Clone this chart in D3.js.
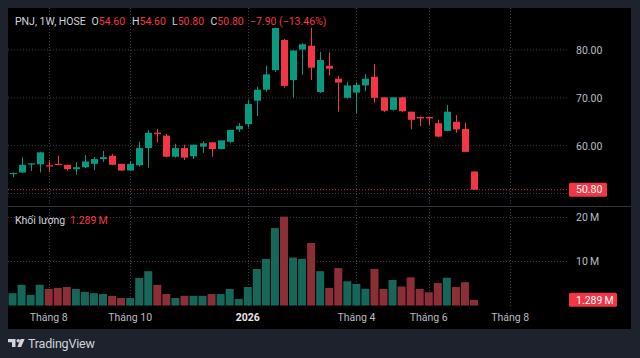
<!DOCTYPE html>
<html><head><meta charset="utf-8">
<script src="https://cdn.jsdelivr.net/npm/d3@7"></script>
<style>
html,body{margin:0;padding:0;background:#1e222d;}
svg{display:block;font-family:Roboto,"Noto Sans",sans-serif;}
</style>
</head><body>
<svg id="c" width="640" height="358"></svg>
<script>
// ---------- DATA ----------
const dates = [
 "2025-07-07","2025-07-14","2025-07-21","2025-07-28","2025-08-04","2025-08-11","2025-08-18","2025-08-25",
 "2025-09-01","2025-09-08","2025-09-15","2025-09-22","2025-09-29","2025-10-06","2025-10-13","2025-10-20",
 "2025-10-27","2025-11-03","2025-11-10","2025-11-17","2025-11-24","2025-12-01","2025-12-08","2025-12-15",
 "2025-12-22","2025-12-29","2026-01-05","2026-01-12","2026-01-19","2026-01-26","2026-02-02","2026-02-09",
 "2026-02-23","2026-03-02","2026-03-09","2026-03-16","2026-03-23","2026-03-30","2026-04-06","2026-04-13",
 "2026-04-20","2026-04-27","2026-05-04","2026-05-11","2026-05-18","2026-05-25","2026-06-01","2026-06-08",
 "2026-06-15","2026-06-22","2026-06-29","2026-07-06"];
const futureDates = ["2026-07-13","2026-07-20","2026-07-27","2026-08-03","2026-08-10","2026-08-17",
 "2026-08-24","2026-08-31","2026-09-07","2026-09-14"];
const open  = [54.1,54.4,56.1,56.1,55.9,56.2,56.0,55.1,55.5,56.2,57.2,57.9,56.2,54.8,55.9,59.5,62.7,62.1,57.7,59.5,
               57.8,59.8,60.7,59.3,60.8,63.4,64.5,69.4,71.7,75.8,82.1,73.7,80.1,80.9,71.2,76.7,74.0,70.0,71.1,72.6,
               74.4,70.1,67.5,70.1,67.1,66.0,66.0,64.7,63.1,65.0,63.5,54.6];
const high  = [54.4,57.6,56.3,58.75,57.0,57.9,56.0,56.5,58.0,57.6,58.9,58.3,56.2,56.8,60.8,63.3,63.5,62.45,60.4,60.2,
               60.2,60.9,60.7,61.1,63.3,64.7,69.6,72.3,76.7,84.7,82.3,79.9,81.4,84.6,79.6,79.5,74.6,73.3,73.3,75.0,
               77.1,70.1,70.1,70.1,67.1,66.1,66.0,65.4,68.5,66.4,64.75,54.6];
const low   = [53.4,54.3,54.7,54.4,54.5,55.9,54.85,53.9,55.3,54.9,56.6,55.9,54.7,54.7,55.6,55.4,60.7,57.6,57.5,57.0,
               57.2,58.5,57.7,59.2,60.5,62.9,63.8,66.2,71.3,75.4,72.1,70.0,74.8,73.7,71.0,74.7,67.1,69.8,66.7,71.4,
               69.0,67.0,67.3,67.0,63.4,64.1,64.3,61.8,63.0,62.7,58.7,50.8];
const close = [54.3,56.0,56.3,58.6,55.7,56.0,55.1,55.5,56.7,57.2,57.6,56.0,54.8,56.2,59.5,62.7,62.4,57.7,59.5,57.5,
               60.2,60.5,59.3,61.1,63.3,64.1,68.7,71.7,74.9,84.6,72.5,79.9,81.2,76.3,77.9,76.1,73.2,72.6,72.7,74.0,
               70.0,67.3,70.1,67.2,65.4,65.7,65.7,61.9,67.1,63.4,58.7,50.8];
const volume = [2.8,4.7,2.4,4.7,3.75,4.0,4.2,3.75,3.1,2.8,2.6,2.2,1.7,1.7,6.25,7.8,4.7,2.6,1.7,2.2,
                2.2,2.2,2.6,2.6,3.75,1.5,4.2,8.3,10.6,17.6,20.2,10.9,10.6,14.2,7.8,4.0,8.5,5.5,4.9,3.8,
                8.3,3.75,5.8,4.3,6.4,3.75,3.0,5.1,6.3,4.2,5.3,1.289];
const priceTicks = [60,70,80];
const priceGrid = [50,60,70,80];
const volumeTicks = [10,20];
const timeTickDates  = ["2025-08-04","2025-10-06","2026-01-05","2026-04-06","2026-06-01","2026-08-03"];
const timeTickLabels = ["Tháng 8","Tháng 10","2026","Tháng 4","Tháng 6","Tháng 8"];
const symbolText = "PNJ, 1W, HOSE";

// ---------- STYLE ----------
const UP = "#089981", DOWN = "#f23645";
const VUP = "#16675a", VDOWN = "#8c2e37";
const GRID = "#3a3e48", AXIS_TXT = "#b8bbc3";
const FS = 10.5;

const svg = d3.select("#c");
// inner black panel
svg.append("rect").attr("x",8).attr("y",8).attr("width",623).attr("height",321).attr("fill","#000");

const bars = dates.map((d,i)=>({d,o:open[i],h:high[i],l:low[i],c:close[i],v:volume[i]}));
const x = d3.scaleBand().domain(dates.concat(futureDates)).range([8,569]).padding(0);
const bw = x.bandwidth();
const cx = d => x(d) + bw/2;
const y = d3.scaleLinear().domain([50,80]).range([193.5,50]);
const vy = d3.scaleLinear().domain([0,20]).range([305.5,217.5]);

const PL = 8, PR = 568;
// grid
const g = svg.append("g");
g.selectAll(".hg").data(priceGrid).join("line")
  .attr("x1",PL).attr("x2",PR).attr("y1",d=>y(d)).attr("y2",d=>y(d))
  .attr("stroke",GRID).attr("stroke-dasharray","1,2");
g.selectAll(".vg").data(volumeTicks).join("line")
  .attr("x1",PL).attr("x2",PR).attr("y1",d=>vy(d)).attr("y2",d=>vy(d))
  .attr("stroke",GRID).attr("stroke-dasharray","1,2");
g.selectAll(".tg").data(timeTickDates).join("line")
  .attr("x1",d=>Math.round(cx(d))+0.5).attr("x2",d=>Math.round(cx(d))+0.5).attr("y1",8).attr("y2",306)
  .attr("stroke",GRID).attr("stroke-dasharray","1,2");

// pane separator
svg.append("line").attr("x1",8).attr("x2",631).attr("y1",206.5).attr("y2",206.5).attr("stroke","#2f333e");

// last price line
const last = bars[bars.length-1];
svg.append("line").attr("x1",PL).attr("x2",PR).attr("y1",y(last.c)).attr("y2",y(last.c))
  .attr("stroke",DOWN).attr("stroke-opacity",0.8).attr("stroke-dasharray","1,2");

// volume bars
svg.append("g").selectAll("rect").data(bars).join("rect")
  .attr("x",d=>cx(d.d)-4).attr("width",8)
  .attr("y",d=>vy(d.v)).attr("height",d=>vy(0)-vy(d.v))
  .attr("fill",d=>d.c>=d.o?VUP:VDOWN);

// candles
const cg = svg.append("g").selectAll("g").data(bars).join("g");
cg.append("line").attr("x1",d=>Math.round(cx(d.d))+0.5).attr("x2",d=>Math.round(cx(d.d))+0.5)
  .attr("y1",d=>y(d.h)).attr("y2",d=>y(d.l))
  .attr("stroke",d=>d.c>=d.o?UP:DOWN).attr("stroke-width",1);
cg.append("rect").attr("x",d=>Math.round(cx(d.d))-3).attr("width",7)
  .attr("y",d=>y(Math.max(d.o,d.c))).attr("height",d=>Math.max(1.2,Math.abs(y(d.o)-y(d.c))))
  .attr("fill",d=>d.c>=d.o?UP:DOWN);

// price axis
const pa = svg.append("g").attr("transform",`translate(${PR},0)`)
  .call(d3.axisRight(y).tickValues(priceTicks).tickSize(0).tickPadding(8).tickFormat(d3.format(".2f")));
pa.select(".domain").remove();
pa.selectAll("text").attr("fill",AXIS_TXT).attr("font-size",FS).attr("font-family","Roboto");

// volume axis
const va = svg.append("g").attr("transform",`translate(${PR},0)`)
  .call(d3.axisRight(vy).tickValues(volumeTicks).tickSize(0).tickPadding(8).tickFormat(d=>d+"\u2009M"));
va.select(".domain").remove();
va.selectAll("text").attr("fill",AXIS_TXT).attr("font-size",FS).attr("font-family","Roboto");

// time axis
const ta = svg.append("g").attr("transform","translate(0,306)")
  .call(d3.axisBottom(x).tickValues(timeTickDates).tickSize(0).tickPadding(8)
        .tickFormat(d=>timeTickLabels[timeTickDates.indexOf(d)]));
ta.select(".domain").remove();
ta.selectAll("text").attr("font-size",FS).attr("font-family","Roboto")
  .attr("font-weight",d=>timeTickLabels[timeTickDates.indexOf(d)]==="2026"?"bold":null)
  .attr("fill",d=>timeTickLabels[timeTickDates.indexOf(d)]==="2026"?"#e6e8ec":AXIS_TXT);

// last price label
const ly = y(last.c);
svg.append("rect").attr("x",569).attr("y",ly-7).attr("width",38).attr("height",14).attr("rx",1.5).attr("fill",DOWN);
svg.append("text").attr("x",576).attr("y",ly).attr("dy","0.35em").attr("fill","#fff")
  .attr("font-size",FS).text(d3.format(".2f")(last.c));
const vly = vy(last.v);
svg.append("rect").attr("x",569).attr("y",vly-7).attr("width",48).attr("height",14).attr("rx",1.5).attr("fill",DOWN);
svg.append("text").attr("x",576).attr("y",vly).attr("dy","0.35em").attr("fill","#fff")
  .attr("font-size",FS).text(last.v.toFixed(3)+"\u2009M");

// header legend
const prev = bars[bars.length-2];
const chg = last.c - prev.c, pct = chg/prev.c*100;
const fmt = d3.format(".2f");
svg.append("text").attr("x",15).attr("y",25).attr("font-size",FS).attr("fill","#d1d4dc").text(symbolText);
const items = [["O",last.o,91.5],["H",last.h,132],["L",last.l,172],["C",last.c,210.5]];
items.forEach(([k,v,px])=>{
  const t = svg.append("text").attr("x",px).attr("y",25).attr("font-size",FS);
  t.append("tspan").attr("fill","#d1d4dc").text(k);
  t.append("tspan").attr("fill",DOWN).text(fmt(v));
});
svg.append("text").attr("x",250).attr("y",25).attr("font-size",FS).attr("fill",DOWN)
  .text(`\u2212${fmt(Math.abs(chg))} (\u2212${fmt(Math.abs(pct))}%)`);

// volume legend
const vl = svg.append("text").attr("x",15).attr("y",224).attr("font-size",FS);
vl.append("tspan").attr("fill","#d1d4dc").text("Khối lượng");
vl.append("tspan").attr("x",70).attr("fill",DOWN).text(last.v.toFixed(3)+"\u2009M");

// TradingView logo
const lg = svg.append("g").attr("fill","#d1d4dc").attr("transform","translate(0,300)");
lg.append("path").attr("d","M8,39 H15.5 V47 H12 V42.2 H8 Z");
lg.append("circle").attr("cx",18.2).attr("cy",40.7).attr("r",1.7);
lg.append("path").attr("d","M20.6,39 H24.6 L21.1,47 H17.3 Z");
svg.append("text").attr("x",28).attr("y",347.5).attr("font-size",12.5).attr("fill","#d1d4dc")
  .attr("letter-spacing","-0.2").text("TradingView");
</script>
</body></html>
